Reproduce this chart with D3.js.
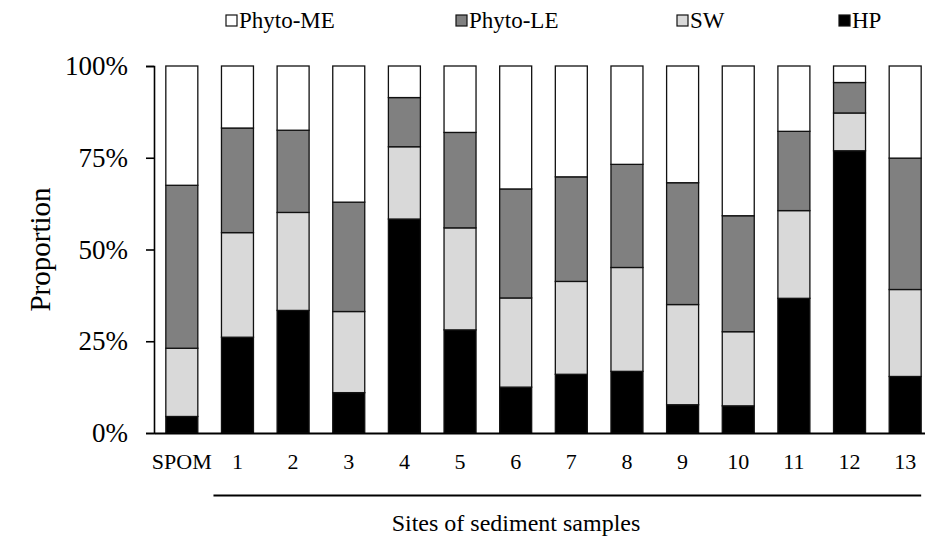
<!DOCTYPE html>
<html>
<head>
<meta charset="utf-8">
<script src="https://cdn.jsdelivr.net/npm/d3@7"></script>
<style>
  body { margin: 0; background: #fff; }
  svg text { font-family: "Liberation Serif", "Times New Roman", serif; }
</style>
</head>
<body>
<svg id="chart" width="925" height="542"></svg>
<script>
const sites = ['SPOM', '1', '2', '3', '4', '5', '6', '7', '8', '9', '10', '11', '12', '13'];
const seriesKeys = ['HP', 'SW', 'Phyto-LE', 'Phyto-ME'];
const legendOrder = ['Phyto-ME', 'Phyto-LE', 'SW', 'HP'];
const hp      = [4.5, 26.1, 33.4, 11.0, 58.3, 28.1, 12.5, 16.0, 16.8, 7.7, 7.4, 36.7, 76.9, 15.4];
const sw      = [18.6, 28.5, 26.7, 22.1, 19.7, 27.8, 24.3, 25.3, 28.3, 27.3, 20.2, 23.9, 10.3, 23.7];
const phytoLE = [44.4, 28.5, 22.4, 29.8, 13.4, 26.0, 29.7, 28.5, 28.1, 33.2, 31.6, 21.6, 8.3, 35.8];
const phytoME = [32.5, 16.9, 17.5, 37.1, 8.6, 18.1, 33.5, 30.2, 26.8, 31.8, 40.8, 17.8, 4.5, 25.1];
const yTicks = [0, 25, 50, 75, 100];

const colors = { 'HP': '#000000', 'SW': '#d9d9d9', 'Phyto-LE': '#808080', 'Phyto-ME': '#ffffff' };
const serif = '"Liberation Serif", "Times New Roman", serif';

const data = sites.map((s, i) => ({
  site: s, 'HP': hp[i], 'SW': sw[i], 'Phyto-LE': phytoLE[i], 'Phyto-ME': phytoME[i]
}));

const margin = { top: 66, right: -8, bottom: 109, left: 154 };
const width = 925, height = 542;
const svg = d3.select('#chart');

const x = d3.scaleBand()
  .domain(sites)
  .range([margin.left, width - margin.right])
  .paddingInner(0.425)
  .paddingOuter(0.2125);

const y = d3.scaleLinear()
  .domain([0, 100])
  .range([height - margin.bottom, margin.top]);

const stacked = d3.stack().keys(seriesKeys)(data);

svg.append('g')
  .selectAll('g')
  .data(stacked)
  .join('g')
  .attr('fill', (d) => colors[d.key])
  .selectAll('rect')
  .data((d) => d)
  .join('rect')
  .attr('x', (d) => x(d.data.site))
  .attr('y', (d) => y(d[1]))
  .attr('width', x.bandwidth())
  .attr('height', (d) => y(d[0]) - y(d[1]))
  .attr('stroke', '#111')
  .attr('stroke-width', 1.3);

// y axis
const yAxis = svg.append('g')
  .attr('transform', `translate(${margin.left},0)`)
  .call(d3.axisLeft(y).tickValues(yTicks).tickSize(8).tickPadding(18).tickFormat((d) => d + '%'));
yAxis.attr('font-family', serif);
yAxis.select('.domain').attr('stroke', '#000').attr('stroke-width', 1.6);
yAxis.selectAll('.tick line').attr('stroke', '#000').attr('stroke-width', 1.6);
yAxis.selectAll('.tick text')
  .attr('font-size', 27)
  .attr('font-family', serif)
  .attr('fill', '#000');

// x axis
const xAxis = svg.append('g')
  .attr('transform', `translate(0,${height - margin.bottom})`)
  .call(d3.axisBottom(x).tickSize(0).tickPadding(20));
xAxis.attr('font-family', serif);
xAxis.select('.domain').attr('stroke', '#000').attr('stroke-width', 2.2);
xAxis.selectAll('.tick text')
  .attr('font-size', 22)
  .attr('font-family', serif)
  .attr('fill', '#000');

// y label
svg.append('text')
  .attr('transform', `translate(40,${(margin.top + height - margin.bottom) / 2}) rotate(-90)`)
  .attr('text-anchor', 'middle')
  .attr('dominant-baseline', 'central')
  .attr('font-family', serif)
  .attr('font-size', 29)
  .text('Proportion');

// bracket line under site labels
svg.append('line')
  .attr('x1', x('1') - 8)
  .attr('x2', x('13') + x.bandwidth())
  .attr('y1', 495.5)
  .attr('y2', 495.5)
  .attr('stroke', '#000')
  .attr('stroke-width', 2);

svg.append('text')
  .attr('x', 516)
  .attr('y', 531)
  .attr('text-anchor', 'middle')
  .attr('font-family', serif)
  .attr('font-size', 24)
  .text('Sites of sediment samples');

// legend
const legendX = { 'Phyto-ME': 226, 'Phyto-LE': 456, 'SW': 677, 'HP': 839 };
const legend = svg.append('g')
  .selectAll('g')
  .data(legendOrder)
  .join('g')
  .attr('transform', (d) => `translate(${legendX[d]},15)`);
legend.append('rect')
  .attr('width', 11)
  .attr('height', 11)
  .attr('fill', (d) => colors[d])
  .attr('stroke', '#111')
  .attr('stroke-width', 1.2);
legend.append('text')
  .attr('x', 13)
  .attr('y', 13)
  .attr('font-family', serif)
  .attr('font-size', 23)
  .text((d) => d);
</script>
</body>
</html>
